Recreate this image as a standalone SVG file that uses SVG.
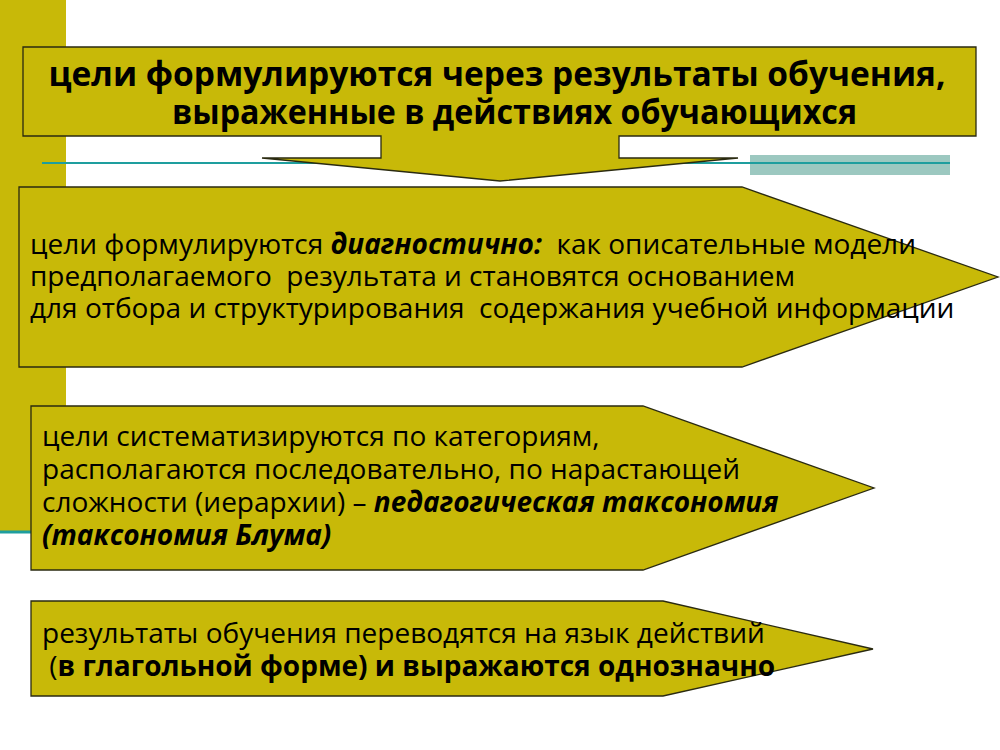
<svg xmlns="http://www.w3.org/2000/svg" width="1000" height="750" viewBox="0 0 1000 750" xml:space="preserve">
<style>
.sh{fill:#C8B908;stroke:#2a2a10;stroke-width:1.3}
.t{font-family:"Open Sans","Noto Sans","DejaVu Sans",sans-serif;fill:#000;white-space:pre}
.b{font-size:28px}
.ti{font-size:33.5px;font-weight:bold}
.bi{font-weight:bold;font-style:italic}
.bo{font-weight:bold}
</style>
<rect width="1000" height="750" fill="#fff"/>
<g id="decor">
<rect x="0" y="0" width="66" height="531" fill="#C8B908"/>
<line x1="0" y1="532" x2="40" y2="532" stroke="#1E9E9E" stroke-width="3"/>
<rect x="750" y="155" width="200" height="20" fill="#9CC8C0"/>
<line x1="42" y1="163" x2="950" y2="163" stroke="#1E9E9E" stroke-width="2"/>
</g>
<g id="n1">
<path class="sh" d="M23,47 H976 V136 H619 V158 H738 L500,181 L262,158 H381 V136 H23 Z"/>
<text class="t ti" x="497" y="86" text-anchor="middle">цели формулируются через результаты обучения,</text>
<text class="t ti" x="172" y="124" textLength="685" lengthAdjust="spacingAndGlyphs">выраженные в действиях обучающихся</text>
</g>
<g id="n2">
<path class="sh" d="M19,187 H742 L998,277 L742,367 H19 Z"/>
<text class="t b" x="30" y="254">цели формулируются <tspan class="bi">диагностично:</tspan>  как описательные модели</text>
<text class="t b" x="30" y="286">предполагаемого  результата и становятся основанием</text>
<text class="t b" x="30" y="318">для отбора и структурирования  содержания учебной информации</text>
</g>
<g id="n3">
<path class="sh" d="M31,406 H643 L874,488 L643,570 H31 Z"/>
<text class="t b" x="42" y="446">цели систематизируются по категориям,</text>
<text class="t b" x="42" y="479">располагаются последовательно, по нарастающей</text>
<text class="t b" x="42" y="512">сложности (иерархии) – <tspan class="bi">педагогическая таксономия</tspan></text>
<text class="t b bi" x="42" y="545">(таксономия Блума)</text>
</g>
<g id="n4">
<path class="sh" d="M31,601 H663 L873,649 L663,696 H31 Z"/>
<text class="t b" x="42" y="643">результаты обучения переводятся на язык действий</text>
<text class="t b" x="42" y="676"> (<tspan class="bo">в глагольной форме) и выражаются однозначно</tspan></text>
</g>
<g id="connectors"></g>
</svg>
